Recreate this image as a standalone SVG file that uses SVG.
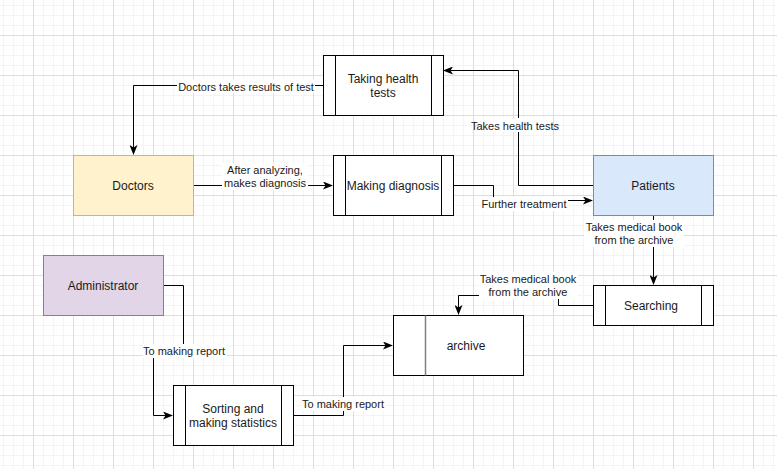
<svg xmlns="http://www.w3.org/2000/svg" width="777" height="469" viewBox="0 0 777 469">
<style>
.box{stroke:#000;stroke-width:1;fill:#fff}
.in{stroke:#000;stroke-width:1;fill:none}
.nt{font-family:"Liberation Sans",Arial,sans-serif;font-size:12px;fill:#1a1a1a;text-anchor:middle}
.et{font-family:"Liberation Sans",Arial,sans-serif;font-size:11px;fill:#1a1a1a;text-anchor:middle}
.lb{fill:#fff}
.cn{stroke:#000;stroke-width:1;fill:none;marker-end:url(#arr)}
.cp{stroke:#000;stroke-width:1;fill:none}
</style>
<defs>
<pattern id="grid" x="33" y="35" width="40" height="40" patternUnits="userSpaceOnUse">
<rect x="10" y="0" width="1" height="40" fill="#f4f4f4"/>
<rect x="20" y="0" width="1" height="40" fill="#f4f4f4"/>
<rect x="30" y="0" width="1" height="40" fill="#f4f4f4"/>
<rect x="0" y="10" width="40" height="1" fill="#f4f4f4"/>
<rect x="0" y="20" width="40" height="1" fill="#f4f4f4"/>
<rect x="0" y="30" width="40" height="1" fill="#f4f4f4"/>
<rect x="0" y="0" width="1" height="40" fill="#dedede"/>
<rect x="0" y="0" width="40" height="1" fill="#dedede"/>
</pattern>
<marker id="arr" viewBox="0 0 10 8" refX="9" refY="4" markerWidth="10" markerHeight="8" markerUnits="userSpaceOnUse" orient="auto">
<path d="M0,0 L10,4 L0,8 L2.5,4 Z" fill="#000"/>
</marker>
</defs>
<rect width="777" height="469" fill="#fff"/>
<rect width="777" height="469" fill="url(#grid)"/>

<g id="connectors">
<path class="cn" d="M593.5,185.5 H518.5 V70.5 H444"/>
<path class="cn" d="M323,85.5 H133.5 V154"/>
<path class="cn" d="M193,185.5 H332"/>
<path class="cn" d="M453,185.5 H493.5 V200.5 H592"/>
<path class="cn" d="M653.5,215 V284"/>
<path class="cn" d="M593,305.5 H558.5 V295.5 H458.5 V314"/>
<path class="cn" d="M163,285.5 H183.5 V351.5 H153.5 V415.5 H172"/>
<path class="cn" d="M293,415.5 H343.5 V345.5 H392"/>

<rect class="lb" x="485" y="118" width="60" height="14"/>
<text class="et" x="515" y="130">Takes health tests</text>
<rect class="lb" x="177" y="79" width="138" height="14"/>
<text class="et" x="246" y="91">Doctors takes results of test</text>
<rect class="lb" x="222" y="163" width="86" height="27"/>
<text class="et" x="265" y="174">After analyzing,</text>
<text class="et" x="265" y="187">makes diagnosis</text>
<rect class="lb" x="481" y="197" width="87" height="14"/>
<text class="et" x="524" y="208">Further treatment</text>
<rect class="lb" x="584" y="220" width="100" height="27"/>
<text class="et" x="634" y="231">Takes medical book</text>
<text class="et" x="634" y="244">from the archive</text>
<rect class="lb" x="479" y="272" width="99" height="27"/>
<text class="et" x="528" y="283">Takes medical book</text>
<text class="et" x="528" y="296">from the archive</text>
<rect class="lb" x="143" y="344" width="84" height="14"/>
<text class="et" x="184" y="355">To making report</text>
<rect class="lb" x="302" y="397" width="84" height="14"/>
<text class="et" x="343" y="408">To making report</text>
</g>

<g id="taking-health-tests">
<rect class="box" x="323.5" y="55.5" width="120" height="60"/>
<path class="in" d="M335.5,55.5 V115.5 M431.5,55.5 V115.5"/>
<text class="nt" x="383" y="83">Taking health</text>
<text class="nt" x="383" y="97">tests</text>
</g>
<g id="doctors">
<rect x="73.5" y="155.5" width="120" height="60" fill="#fff2cc" stroke="#d6b656"/>
<text class="nt" x="133" y="189.5">Doctors</text>
</g>
<g id="making-diagnosis">
<rect class="box" x="333.5" y="155.5" width="120" height="60"/>
<path class="in" d="M345.5,155.5 V215.5 M441.5,155.5 V215.5"/>
<text class="nt" x="393" y="189.5">Making diagnosis</text>
</g>
<g id="patients">
<rect x="593.5" y="155.5" width="120" height="60" fill="#dae8fc" stroke="#6c8ebf"/>
<text class="nt" x="653" y="189.5">Patients</text>
</g>
<g id="administrator">
<rect x="43.5" y="255.5" width="120" height="60" fill="#e1d5e7" stroke="#9673a6"/>
<text class="nt" x="103" y="289.5">Administrator</text>
</g>
<g id="searching">
<rect class="box" x="593.5" y="285.5" width="120" height="40"/>
<path class="in" d="M605.5,285.5 V325.5 M701.5,285.5 V325.5"/>
<text class="nt" x="651" y="309.5">Searching</text>
</g>
<g id="archive">
<rect class="box" x="393.5" y="315.5" width="130" height="60"/>
<path d="M425.5,315.5 V375.5" stroke="#808080" stroke-width="1.5" fill="none"/>
<text class="nt" x="466" y="349.5">archive</text>
</g>
<g id="sorting">
<rect class="box" x="173.5" y="385.5" width="120" height="60"/>
<path class="in" d="M185.5,385.5 V445.5 M281.5,385.5 V445.5"/>
<text class="nt" x="233" y="413">Sorting and</text>
<text class="nt" x="233" y="427">making statistics</text>
</g>
</svg>
